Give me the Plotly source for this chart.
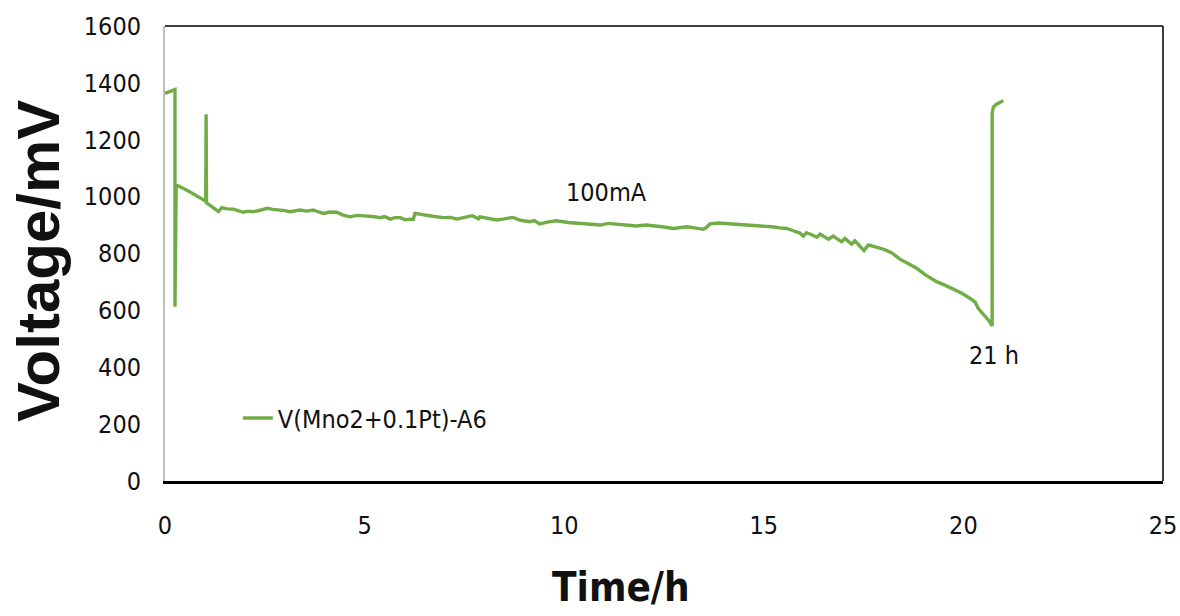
import plotly.graph_objects as go

# Time (h) and voltage (mV)
time_h = [0.00, 0.25, 0.25, 0.28, 0.54, 0.80, 1.02, 1.03, 1.04, 1.20, 1.34, 1.42,
          1.56, 1.71, 1.84, 1.96, 2.08, 2.21, 2.38, 2.55, 2.70, 2.88, 3.00, 3.13,
          3.25, 3.38, 3.55, 3.72, 3.85, 3.97, 4.12, 4.30, 4.45, 4.63, 4.80, 5.05,
          5.20, 5.39, 5.50, 5.64, 5.76, 5.89, 6.02, 6.14, 6.22, 6.26, 6.40, 6.55,
          6.75, 6.97, 7.15, 7.31, 7.45, 7.56, 7.70, 7.85, 7.89, 8.10, 8.31, 8.50,
          8.72, 8.90, 9.14, 9.25, 9.39, 9.60, 9.81, 10.10, 10.40, 10.65, 10.90, 11.10,
          11.31, 11.55, 11.81, 12.05, 12.32, 12.50, 12.73, 12.90, 13.07, 13.30, 13.49, 13.55,
          13.65, 13.85, 14.07, 14.30, 14.57, 14.75, 14.90, 15.20, 15.40, 15.57, 15.74, 15.90,
          15.99, 16.07, 16.20, 16.33, 16.41, 16.52, 16.62, 16.74, 16.85, 16.95, 17.03, 17.12,
          17.20, 17.28, 17.40, 17.51, 17.62, 17.80, 17.99, 18.20, 18.41, 18.60, 18.83, 19.05,
          19.33, 19.55, 19.75, 19.95, 20.17, 20.30, 20.37, 20.50, 20.58, 20.65, 20.72, 20.72,
          20.75, 20.83, 20.92, 21.00]
voltage_mv = [1363, 1377, 613, 1041, 1023, 1000, 984, 1290, 978, 962, 947, 961,
              957, 956, 950, 945, 949, 947, 952, 959, 955, 953, 951, 947,
              951, 953, 949, 953, 946, 941, 946, 945, 936, 929, 934, 933,
              930, 926, 930, 921, 926, 926, 919, 921, 920, 941, 937, 933,
              930, 926, 927, 921, 927, 929, 933, 922, 929, 924, 918, 922,
              927, 917, 912, 916, 904, 911, 915, 909, 906, 905, 900, 906,
              904, 901, 897, 900, 897, 893, 888, 892, 894, 889, 885, 890,
              904, 907, 906, 903, 900, 899, 897, 894, 890, 888, 880, 872,
              861, 873, 866, 857, 868, 859, 850, 861, 851, 841, 853, 843,
              833, 845, 828, 810, 830, 823, 815, 803, 780, 766, 748, 725,
              701, 688, 674, 661, 642, 628, 607, 588, 572, 562, 545, 1293,
              1315, 1325, 1332, 1337]

series_name = "V(Mno2+0.1Pt)-A6"
x_ticks = [0, 5, 10, 15, 20, 25]
y_ticks = [0, 200, 400, 600, 800, 1000, 1200, 1400, 1600]
x_title = "Time/h"
y_title = "Voltage/mV"

GREEN = "#70AD47"
TXT = "#111111"
COND = "DejaVu Sans Condensed, DejaVu Sans, sans-serif"

fig = go.Figure()
fig.add_trace(go.Scatter(x=time_h, y=voltage_mv, mode="lines", name=series_name,
                         line=dict(color=GREEN, width=3.4)))

fig.add_annotation(x=11.07, y=1013, text="100mA", showarrow=False,
                   font=dict(family=COND, size=25, color=TXT))
fig.add_annotation(x=20.77, y=443, text="21 h", showarrow=False,
                   font=dict(family=COND, size=25, color=TXT))

# axis titles
fig.add_annotation(xref="paper", yref="paper", x=-0.1273, y=0.4835, text="<b>" + y_title + "</b>",
                   textangle=-90, showarrow=False, xanchor="center", yanchor="middle",
                   font=dict(family="Liberation Sans, Arial, sans-serif", size=60, color=TXT))
fig.add_annotation(xref="paper", yref="paper", x=0.457, y=-0.233, text="<b>" + x_title + "</b>",
                   showarrow=False, xanchor="center", yanchor="middle",
                   font=dict(family=COND, size=40, color=TXT))

# plot frame (top and right edges)
fig.add_shape(type="line", xref="x domain", yref="y domain", x0=0, x1=1, y0=1, y1=1,
              line=dict(color="black", width=1.5))
fig.add_shape(type="line", xref="x domain", yref="y domain", x0=1, x1=1, y0=0, y1=1,
              line=dict(color="black", width=1.5))

fig.update_layout(
    width=1180, height=616,
    margin=dict(l=165, r=17, t=26, b=135, autoexpand=False),
    paper_bgcolor="white", plot_bgcolor="white",
    showlegend=True,
    legend=dict(x=0.073, y=0.138, xanchor="left", yanchor="middle",
                font=dict(family=COND, size=25, color=TXT),
                bgcolor="rgba(0,0,0,0)"),
    xaxis=dict(range=[0, 25], tickvals=x_ticks, showgrid=False, zeroline=False,
               showline=True, linecolor="black", linewidth=3, ticks="",
               automargin=False, ticklabelstandoff=20,
               tickfont=dict(family=COND, size=25, color=TXT)),
    yaxis=dict(range=[0, 1600], tickvals=y_ticks, showgrid=False, zeroline=False,
               showline=True, linecolor="#BFBFBF", linewidth=2, ticks="",
               automargin=False, ticklabelstandoff=17,
               tickfont=dict(family=COND, size=25, color=TXT)),
)

# remove the default page margin so the 1180x616 figure fills the window exactly
fig.write_html("out.html", config={"displayModeBar": False},
               post_script="document.body.style.margin='0px';document.body.style.overflow='hidden';")
